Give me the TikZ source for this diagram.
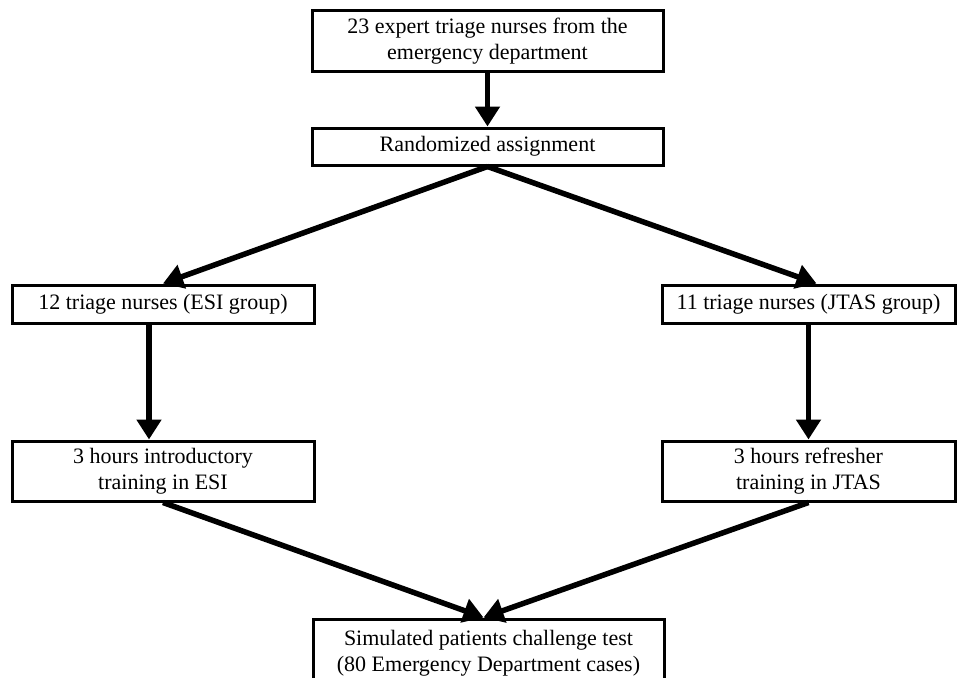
\documentclass[tikz,border=0pt]{standalone}
\usepackage{fontspec}
\setmainfont{Liberation Serif}
\usetikzlibrary{arrows.meta}
\begin{document}
\begin{tikzpicture}[x=1pt,y=-1pt,
		box/.style={draw,line width=3pt,align=center,inner sep=0pt,
			font=\fontsize{22}{25.5}\selectfont},
		flow/.style={line width=5.5pt,-{Triangle[length=20pt,width=24pt]}}]
		\useasboundingbox (0,0) rectangle (957,677);

		% блоки
		\node[box,minimum width=351,minimum height=60] (top) at (487.5,41)
			{23 expert triage nurses from the\\emergency department};
		\node[box,minimum width=351,minimum height=37] (rand) at (487.5,146.5)
			{Randomized assignment};

		\node[box,minimum width=302,minimum height=38] (esi) at (163,304)
			{12 triage nurses (ESI group)};
		\node[box,minimum width=293,minimum height=38] (jtas) at (808.5,304)
			{11 triage nurses (JTAS group)};

		\node[box,minimum width=302,minimum height=60] (esiT) at (163,471)
			{3 hours introductory\\training in ESI};
		\node[box,minimum width=293,minimum height=60] (jtasT) at (808.5,471)
			{3 hours refresher\\training in JTAS};

		\node[box,minimum width=351,minimum height=68] (sim) at (488.5,653)
			{Simulated patients challenge test\\(80 Emergency Department cases)};

		% стрелки
		\draw[flow] (top.south) -- (rand.north);
		\draw[flow] (rand.south) -- (esi.north);
		\draw[flow] (rand.south) -- ([xshift=8]jtas.north);
		\draw[flow] ([xshift=-14]esi.south) -- ([xshift=-14]esiT.north);
		\draw[flow] (jtas.south) -- (jtasT.north);
		\draw[flow] (esiT.south) -- ([xshift=-5]sim.north);
		\draw[flow] (jtasT.south) -- ([xshift=-5]sim.north);
	\end{tikzpicture}
\end{document}
